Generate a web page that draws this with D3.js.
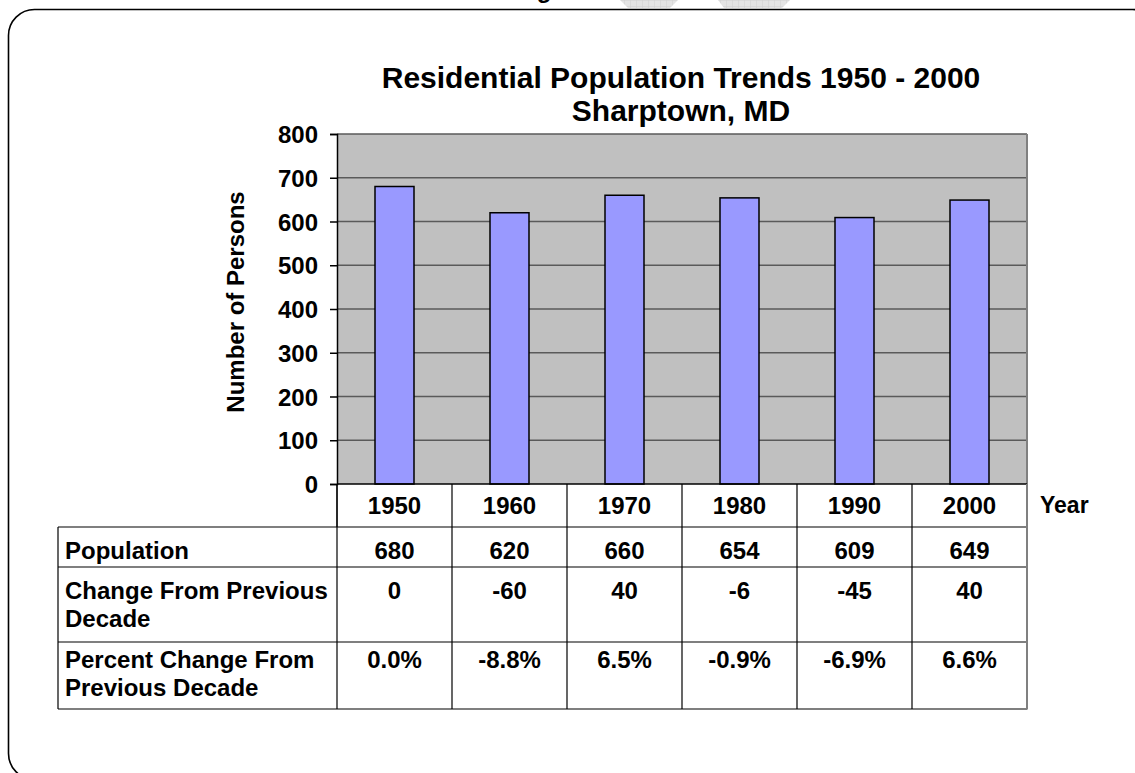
<!DOCTYPE html>
<html>
<head>
<meta charset="utf-8">
<script src="https://cdn.jsdelivr.net/npm/d3@7"></script>
<style>
  html, body { margin: 0; padding: 0; background: #fff; }
  svg { display: block; }
  text { font-family: "Liberation Sans", Arial, Helvetica, sans-serif; font-weight: bold; fill: #000; }
</style>
</head>
<body>
<svg id="chart" width="1135" height="773"></svg>
<script>
// Census data for Sharptown, MD
const years = ["1950", "1960", "1970", "1980", "1990", "2000"];
const population = [680, 620, 660, 654, 609, 649];
const change = ["0", "-60", "40", "-6", "-45", "40"];
const pctChange = ["0.0%", "-8.8%", "6.5%", "-0.9%", "-6.9%", "6.6%"];
const yTicks = [0, 100, 200, 300, 400, 500, 600, 700, 800];
const rowLabels = [
  ["Population"],
  ["Change From Previous", "Decade"],
  ["Percent Change From", "Previous Decade"]
];
const titleLines = ["Residential Population Trends 1950 - 2000", "Sharptown, MD"];

const svg = d3.select("#chart");

// page furniture: faint header ornaments and the clipped heading above the frame
const orn = svg.append("g");
const pat = svg.append("defs").append("pattern")
  .attr("id", "hatch").attr("width", 6).attr("height", 6).attr("patternUnits", "userSpaceOnUse");
pat.append("rect").attr("width", 6).attr("height", 6).attr("fill", "#e4e4e4");
pat.append("path").attr("d", "M0,0H6M0,0V6").attr("stroke", "#d0d0d0").attr("stroke-width", 1);
orn.append("path").attr("d", "M620,0 L678,0 L670,8 L628,8 Z").attr("fill", "url(#hatch)");
orn.append("path").attr("d", "M718,0 L790,0 L782,8 L724,8 Z").attr("fill", "url(#hatch)");
svg.append("text").attr("x", 544).attr("y", -2).attr("text-anchor", "middle")
  .style("font-size", "24px").text("g");

// rounded outer frame
svg.append("rect")
  .attr("x", 8.5).attr("y", 9.5).attr("width", 1150).attr("height", 770)
  .attr("rx", 26).attr("ry", 26)
  .attr("fill", "none").attr("stroke", "#000").attr("stroke-width", 1.6);

// plot geometry
const plotL = 337, plotR = 1027, plotT = 134, plotB = 484;

const x = d3.scaleBand().domain(years).range([plotL, plotR]).paddingInner(0).paddingOuter(0);
const y = d3.scaleLinear().domain([0, 800]).range([plotB, plotT]);

// plot background
svg.append("rect").attr("x", plotL).attr("y", plotT)
  .attr("width", plotR - plotL).attr("height", plotB - plotT).attr("fill", "#c0c0c0");

// gridlines
svg.append("g").selectAll("line").data(yTicks.filter(d => d > 0)).join("line")
  .attr("x1", plotL).attr("x2", plotR)
  .attr("y1", d => y(d)).attr("y2", d => y(d))
  .attr("stroke", "#5a5a5a").attr("stroke-width", 1.5);

// right border of plot
svg.append("line").attr("x1", plotR).attr("x2", plotR).attr("y1", plotT).attr("y2", plotB)
  .attr("stroke", "#808080").attr("stroke-width", 2);

// bars
const barW = 39;
svg.append("g").selectAll("rect").data(years).join("rect")
  .attr("x", d => x(d) + x.bandwidth() / 2 - barW / 2)
  .attr("y", (d, i) => y(population[i]))
  .attr("width", barW)
  .attr("height", (d, i) => y(0) - y(population[i]))
  .attr("fill", "#9999ff").attr("stroke", "#000").attr("stroke-width", 1.5);

// y axis
const yAxis = d3.axisLeft(y).tickValues(yTicks).tickSize(7).tickPadding(12).tickFormat(d3.format("d"));
const ya = svg.append("g").attr("transform", `translate(${plotL},0)`).call(yAxis);
ya.select(".domain").attr("stroke", "#000").attr("stroke-width", 1.5);
ya.selectAll(".tick line").attr("stroke", "#000").attr("stroke-width", 1.5);
ya.selectAll(".tick text").style("font-size", "24px").attr("font-family", null).attr("dy", "0.36em");

// y axis title
svg.append("text")
  .attr("transform", "translate(244,302) rotate(-90)")
  .attr("text-anchor", "middle")
  .style("font-size", "24px")
  .text("Number of Persons");

// chart title
svg.append("g").selectAll("text").data(titleLines).join("text")
  .attr("x", 681).attr("y", (d, i) => 88 + i * 33)
  .attr("text-anchor", "middle").style("font-size", "30px")
  .text(d => d);

// category header row (acts as the x axis)
const hdrB = 527;
const tbl = svg.append("g");
tbl.append("line").attr("x1", plotL).attr("x2", plotR).attr("y1", plotB).attr("y2", plotB)
  .attr("stroke", "#000").attr("stroke-width", 1.5);
tbl.selectAll("line.col").data(years.map(d => x(d)).concat([plotL])).join("line")
  .attr("class", "col")
  .attr("x1", d => d).attr("x2", d => d).attr("y1", plotB).attr("y2", hdrB)
  .attr("stroke", "#000").attr("stroke-width", 1.2);
tbl.selectAll("text.yr").data(years).join("text").attr("class", "yr")
  .attr("x", d => x(d) + x.bandwidth() / 2).attr("y", 514)
  .attr("text-anchor", "middle").style("font-size", "24px").text(d => d);
svg.append("text").attr("x", 1040).attr("y", 513).style("font-size", "23px").text("Year");

// data table
const tblL = 58;
const rowEdges = [527, 567, 642, 709];
const rowBase = [559, 599, 668];
const rows = [population.map(String), change, pctChange];

tbl.selectAll("line.row").data(rowEdges).join("line").attr("class", "row")
  .attr("x1", tblL).attr("x2", plotR).attr("y1", d => d).attr("y2", d => d)
  .attr("stroke", "#000").attr("stroke-width", 1.2);
tbl.selectAll("line.vcol").data([tblL].concat(years.map(d => x(d)))).join("line").attr("class", "vcol")
  .attr("x1", d => d).attr("x2", d => d).attr("y1", rowEdges[0]).attr("y2", rowEdges[3])
  .attr("stroke", "#000").attr("stroke-width", 1.2);
tbl.append("line").attr("x1", plotR).attr("x2", plotR).attr("y1", plotB).attr("y2", rowEdges[3] + 0.6)
  .attr("stroke", "#808080").attr("stroke-width", 2);

rowLabels.forEach((lines, r) => {
  lines.forEach((ln, k) => {
    tbl.append("text").attr("x", 65).attr("y", rowBase[r] + k * 28)
      .style("font-size", "24px").text(ln);
  });
  tbl.append("g").selectAll("text").data(years).join("text")
    .attr("x", d => x(d) + x.bandwidth() / 2).attr("y", rowBase[r])
    .attr("text-anchor", "middle").style("font-size", "24px")
    .text((d, i) => rows[r][i]);
});
</script>
</body>
</html>
